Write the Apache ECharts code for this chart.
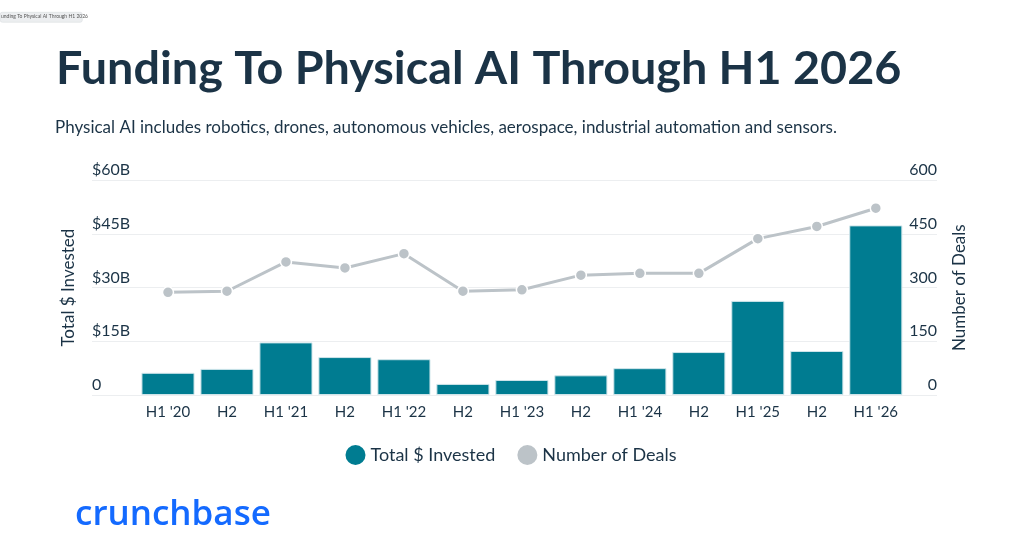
<!DOCTYPE html>
<html>
<head>
<meta charset="utf-8">
<script src="https://cdn.jsdelivr.net/npm/echarts@6/dist/echarts.min.js"></script>
<style>
  html, body { margin: 0; padding: 0; background: #fff; }
  #chart { width: 1022px; height: 557px; }
</style>
</head>
<body>
<div id="chart"></div>
<script>
// data
const categories = ["H1 '20", 'H2', "H1 '21", 'H2', "H1 '22", 'H2', "H1 '23", 'H2', "H1 '24", 'H2', "H1 '25", 'H2', "H1 '26"];
const invested = [6.2, 7.3, 14.7, 10.6, 10.0, 3.1, 4.2, 5.5, 7.5, 12.0, 26.3, 12.3, 47.4];
const deals = [287, 290, 372, 355, 395, 290, 294, 335, 340, 340, 437, 471, 522];
const moneyTicks = [0, 15, 30, 45, 60];
const dealTicks = [0, 150, 300, 450, 600];

const FONT = 'Lato';
const INK = '#1b3346';
const TEAL = '#007c91';
const GREY = '#bcc3c8';

const chart = echarts.init(document.getElementById('chart'));

const option = {
  backgroundColor: '#fff',
  textStyle: { fontFamily: FONT },
  title: [
    {
      text: 'Funding To Physical AI Through H1 2026',
      left: 51, top: 40,
      textStyle: { fontFamily: FONT, fontSize: 46.7, fontWeight: 'bold', color: INK }
    },
    {
      text: 'Physical AI includes robotics, drones, autonomous vehicles, aerospace, industrial automation and sensors.',
      left: 50, top: 114,
      textStyle: { fontFamily: FONT, fontSize: 17, fontWeight: 'normal', color: INK }
    },
    {
      text: 'crunchbase',
      left: 70, top: 493,
      textStyle: { fontFamily: 'Open Sans', fontSize: 35, fontWeight: 600, color: '#146aff' }
    }
  ],
  legend: {
    left: 'center', top: 440,
    itemWidth: 20, itemHeight: 20, itemGap: 22,
    icon: 'circle',
    itemStyle: { borderWidth: 0 },
    textStyle: { fontFamily: FONT, fontSize: 18, color: INK },
    data: ['Total $ Invested', 'Number of Deals']
  },
  graphic: [
    {
      type: 'rect', left: 0, top: 12,
      shape: { width: 82, height: 10, r: 2 },
      style: { fill: '#eceef0', stroke: '#d4d8dc', lineWidth: 0.5 }
    },
    {
      type: 'text', left: 1, top: 14,
      style: { text: 'unding To Physical AI Through H1 2026', fontSize: 5, fill: '#555', fontFamily: FONT }
    }
  ],
  grid: [
    { left: 138.5, right: 116.7, top: 180.3, bottom: 162 },
    { left: 92, right: 85, top: 180.3, bottom: 162 }
  ],
  xAxis: [
    {
      type: 'category', gridIndex: 0, data: categories,
      axisLine: { show: false }, axisTick: { show: false },
      axisLabel: { fontFamily: FONT, fontSize: 15, color: INK, margin: 10, interval: 0 }
    },
    {
      type: 'value', gridIndex: 1, show: false, min: 0, max: 1
    }
  ],
  yAxis: [
    // data axes (invisible, share the scale of the visible ones)
    { type: 'value', gridIndex: 0, min: 0, max: 60, interval: 15, show: false },
    { type: 'value', gridIndex: 0, min: 0, max: 600, interval: 150, show: false },
    // visible axes with the full-width grid lines
    {
      type: 'value', gridIndex: 1, position: 'left',
      min: moneyTicks[0], max: moneyTicks[moneyTicks.length - 1], interval: 15,
      name: 'Total $ Invested', nameLocation: 'middle', nameRotate: 90, nameGap: 15,
      nameTextStyle: { fontFamily: FONT, fontSize: 17, color: INK },
      axisLine: { show: false }, axisTick: { show: false },
      splitLine: { lineStyle: { color: '#eceef0', width: 1.2 } },
      axisLabel: {
        inside: true, margin: 0, align: 'left', verticalAlign: 'bottom', padding: [0, 0, 2, 0],
        fontFamily: FONT, fontSize: 16, color: INK,
        formatter: v => v === 0 ? '0' : '$' + v + 'B'
      }
    },
    {
      type: 'value', gridIndex: 1, position: 'right',
      min: dealTicks[0], max: dealTicks[dealTicks.length - 1], interval: 150,
      name: 'Number of Deals', nameLocation: 'middle', nameRotate: 90, nameGap: 14,
      nameTextStyle: { fontFamily: FONT, fontSize: 17, color: INK },
      axisLine: { show: false }, axisTick: { show: false },
      splitLine: { show: false },
      axisLabel: {
        inside: true, margin: 0, align: 'right', verticalAlign: 'bottom', padding: [0, 0, 2, 0],
        fontFamily: FONT, fontSize: 16, color: INK
      }
    }
  ],
  series: [
    {
      name: 'Total $ Invested', type: 'bar',
      xAxisIndex: 0, yAxisIndex: 0,
      data: invested,
      barCategoryGap: '10%',
      itemStyle: { color: TEAL, borderColor: '#cfe5ea', borderWidth: 1 },
      z: 2
    },
    {
      name: 'Number of Deals', type: 'line',
      xAxisIndex: 0, yAxisIndex: 1,
      data: deals,
      symbol: 'circle', symbolSize: 11,
      lineStyle: { color: GREY, width: 3 },
      itemStyle: { color: GREY, borderColor: '#fff', borderWidth: 1.5 },
      z: 3
    }
  ]
};

chart.setOption(option);
</script>
</body>
</html>
